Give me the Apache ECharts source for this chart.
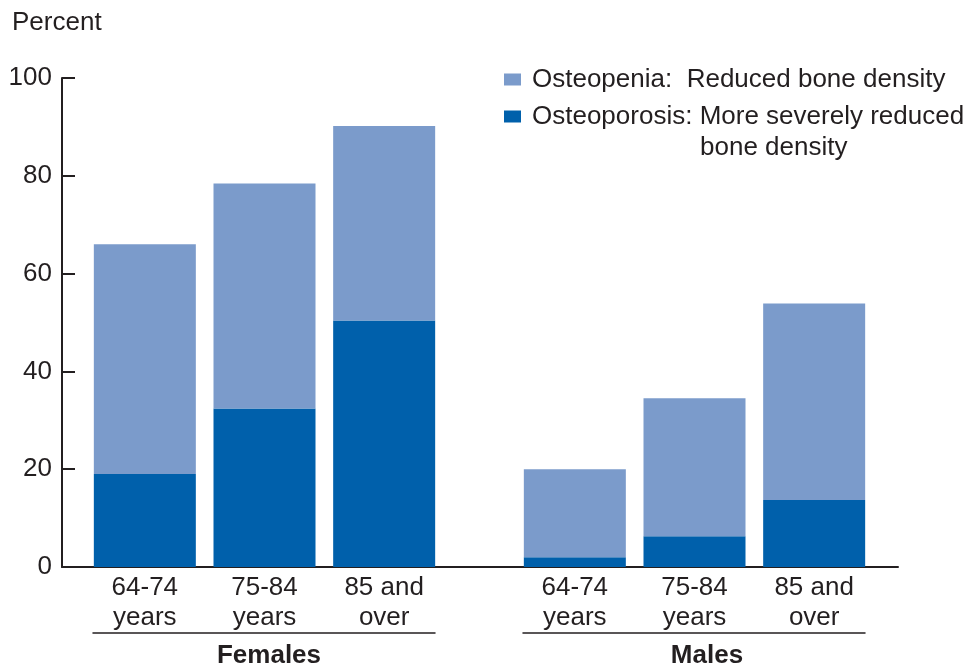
<!DOCTYPE html>
<html>
<head>
<meta charset="utf-8">
<script src="https://cdn.jsdelivr.net/npm/echarts@6/dist/echarts.min.js"></script>
<style>html,body{margin:0;padding:0;background:#fff}#chart{width:974px;height:669px}</style>
</head>
<body>
<div id="chart"></div>
<script>
// ---- data ----
const ageGroups = ['64-74\nyears', '75-84\nyears', '85 and\nover'];
const sexGroups = ['Females', 'Males'];
// Osteoporosis (more severely reduced bone density), percent
const osteoporosisFemales = [19, 32.4, 50.4];
const osteoporosisMales = [2, 6.3, 13.7];
// Osteopenia (reduced bone density), percent (stacked on top of osteoporosis)
const osteopeniaFemales = [47, 46, 39.8];
const osteopeniaMales = [18, 28.2, 40.2];
const yTicks = { min: 0, max: 100, interval: 20 };

const FONT = '"Liberation Sans", Arial, Helvetica, sans-serif';
const FS = 26;
const TXT = '#231f20';
const LIGHT = '#7b9bcb';
const DARK = '#0060ab';

const chart = echarts.init(document.getElementById('chart'), null, { renderer: 'canvas' });

const hiddenY = (gi) => ({
  type: 'value', gridIndex: gi, min: yTicks.min, max: yTicks.max, interval: yTicks.interval,
  show: false, splitLine: { show: false }
});

const ageAxis = (gi) => ({
  type: 'category', gridIndex: gi, data: ageGroups,
  axisLine: { show: false }, axisTick: { show: false },
  axisLabel: { fontFamily: FONT, fontSize: FS, color: TXT, lineHeight: 30, margin: 6, interval: 0 }
});

const groupAxis = (gi, name, padLeft) => ({
  type: 'category', gridIndex: gi, data: [name], position: 'bottom', offset: 66,
  axisLine: { show: true, onZero: false, lineStyle: { color: TXT, width: 1.5 } }, axisTick: { show: false },
  axisLabel: { fontFamily: FONT, fontSize: FS, fontWeight: 'bold', color: TXT, margin: 10, padding: [0, 0, 0, padLeft] }
});

const option = {
  animation: false,
  backgroundColor: '#fff',
  textStyle: { fontFamily: FONT, color: TXT },
  title: {
    text: 'Percent', left: 7, top: 5,
    textStyle: { fontFamily: FONT, fontSize: FS, fontWeight: 'normal', color: TXT }
  },
  legend: [
    {
      data: ['Osteopenia'], left: 499, top: 59, orient: 'vertical',
      itemWidth: 17, itemHeight: 12, icon: 'rect',
      formatter: () => 'Osteopenia:  Reduced bone density',
      textStyle: { fontFamily: FONT, fontSize: FS, color: TXT, lineHeight: 31, padding: [0, 0, 0, 6] }
    },
    {
      data: ['Osteoporosis'], left: 499, top: 65, orient: 'vertical',
      itemWidth: 17, itemHeight: 12, icon: 'rect',
      formatter: () => '{a|Osteoporosis: More severely reduced}\n{p|}{a|bone density}',
      textStyle: {
        fontFamily: FONT, fontSize: FS, color: TXT, padding: [31, 0, 0, 6], lineHeight: 31,
        rich: {
          a: { fontFamily: FONT, fontSize: FS, color: TXT, lineHeight: 31 },
          p: { width: 168, lineHeight: 31 }
        }
      }
    }
  ],
  grid: [
    { left: 62, right: 76, top: 78, bottom: 102 },   // axes frame
    { left: 85, width: 359, top: 78, bottom: 102 },   // females bars
    { left: 515, width: 359, top: 78, bottom: 102 },  // males bars
    { left: 93, width: 342, top: 78, bottom: 102 },   // females bracket
    { left: 523, width: 342, top: 78, bottom: 102 }   // males bracket
  ],
  xAxis: [
    {
      type: 'value', gridIndex: 0, min: 0, max: 1,
      axisLine: { show: true, lineStyle: { color: TXT, width: 2 } },
      axisTick: { show: false }, axisLabel: { show: false }, splitLine: { show: false }
    },
    ageAxis(1), ageAxis(2),
    groupAxis(3, sexGroups[0], 10),
    groupAxis(4, sexGroups[1], 26)
  ],
  yAxis: [
    {
      type: 'value', gridIndex: 0, min: yTicks.min, max: yTicks.max, interval: yTicks.interval,
      axisLine: { show: true, lineStyle: { color: TXT, width: 2 } },
      axisTick: { show: true, inside: true, length: 13, lineStyle: { color: TXT, width: 2 } },
      axisLabel: { fontFamily: FONT, fontSize: FS, color: TXT, margin: 10 },
      splitLine: { show: false }
    },
    hiddenY(1), hiddenY(2), hiddenY(3), hiddenY(4)
  ],
  series: [
    { name: 'Osteoporosis', type: 'bar', stack: 'f', xAxisIndex: 1, yAxisIndex: 1, barWidth: 102,
      itemStyle: { color: DARK }, data: osteoporosisFemales },
    { name: 'Osteopenia', type: 'bar', stack: 'f', xAxisIndex: 1, yAxisIndex: 1, barWidth: 102,
      itemStyle: { color: LIGHT }, data: osteopeniaFemales },
    { name: 'Osteoporosis', type: 'bar', stack: 'm', xAxisIndex: 2, yAxisIndex: 2, barWidth: 102,
      itemStyle: { color: DARK }, data: osteoporosisMales },
    { name: 'Osteopenia', type: 'bar', stack: 'm', xAxisIndex: 2, yAxisIndex: 2, barWidth: 102,
      itemStyle: { color: LIGHT }, data: osteopeniaMales }
  ]
};
chart.setOption(option);
</script>
</body>
</html>
